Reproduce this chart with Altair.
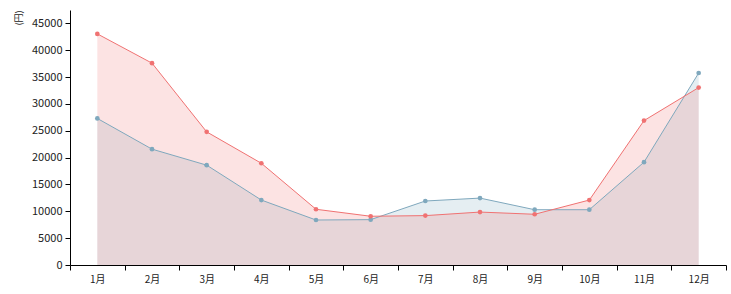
import altair as alt
import pandas as pd

months = ["1月", "2月", "3月", "4月", "5月", "6月", "7月", "8月", "9月", "10月", "11月", "12月"]
red_values = [43050, 37600, 24800, 18950, 10380, 9080, 9200, 9860, 9450, 12100, 26900, 33050]
blue_values = [27300, 21580, 18600, 12100, 8380, 8450, 11920, 12460, 10300, 10300, 19160, 35760]
series_names = ["A", "B"]
series_colors = ["#f07272", "#7fa8bd"]
y_ticks = [0, 5000, 10000, 15000, 20000, 25000, 30000, 35000, 40000, 45000]

rows = []
for m, v in zip(months, red_values):
    rows.append({"month": m, "value": v, "series": "A"})
for m, v in zip(months, blue_values):
    rows.append({"month": m, "value": v, "series": "B"})
df = pd.DataFrame(rows)

FONT = "Noto Sans CJK JP"

x = alt.X("month:N", sort=months,
          scale=alt.Scale(type="band", domain=months, paddingInner=0, paddingOuter=0),
          axis=alt.Axis(title=None, labelAngle=0, tickBand="extent", domainColor="black",
                        tickColor="black", labelColor="#222", labelFont=FONT, labelFontSize=10,
                        tickSize=5, labelPadding=4))
y = alt.Y("value:Q",
          scale=alt.Scale(domain=[0, 47500], nice=False),
          axis=alt.Axis(title="(円)", values=y_ticks, format="d", grid=False, domainColor="black",
                        tickColor="black", labelColor="#222", labelFont=FONT, labelFontSize=11,
                        tickSize=5, labelPadding=3, titleAnchor="end", titleAngle=-90,
                        titleFont=FONT, titleFontSize=9, titleFontWeight="normal",
                        titleColor="#222", titleX=-52, titleY=0, titleBaseline="middle",
                        titleAlign="right"))

base = alt.Chart(df)
A = alt.datum.series == "A"
B = alt.datum.series == "B"
area_blue = base.transform_filter(B).mark_area(color="#7fa8bd", opacity=0.2).encode(x=x, y=y)
area_red = base.transform_filter(A).mark_area(color="#f07272", opacity=0.2).encode(x=x, y=y)
line_blue = base.transform_filter(B).mark_line(color="#7fa8bd", strokeWidth=1).encode(x=x, y=y)
line_red = base.transform_filter(A).mark_line(color="#f07272", strokeWidth=1).encode(x=x, y=y)
pts_blue = base.transform_filter(B).mark_circle(color="#7fa8bd", size=22, opacity=1).encode(x=x, y=y)
pts_red = base.transform_filter(A).mark_circle(color="#f07272", size=22, opacity=1).encode(x=x, y=y)

chart = alt.layer(area_blue, area_red, line_blue, line_red, pts_blue, pts_red).properties(
    width=656, height=255,
    autosize=alt.AutoSizeParams(type="none"),
    padding={"left": 70, "top": 10, "right": 5, "bottom": 29},
    background="white",
).configure_view(stroke=None, strokeWidth=0)

chart.save("out.html", embed_options={"renderer": "svg", "actions": False})
